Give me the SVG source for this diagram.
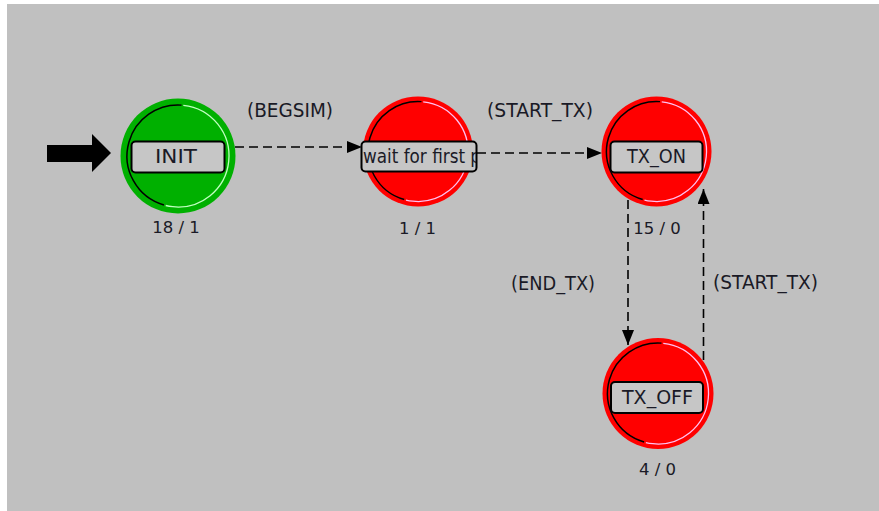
<svg xmlns="http://www.w3.org/2000/svg" width="879" height="511" viewBox="0 0 879 511">
  <defs>
    <style>
      .canvas { fill: #c0c0c0; }
      .red { fill: #ff0000; }
      .green { fill: #00b000; }
      .shade { fill: none; stroke: #000; stroke-width: 1.5; stroke-dasharray: 168 192; }
      .hi-red { fill: none; stroke: #ffc0f0; stroke-width: 1.3; stroke-dasharray: 188 172; }
      .hi-green { fill: none; stroke: #c0ffc0; stroke-width: 1.3; stroke-dasharray: 188 172; }
      .box { fill: #c6c6c6; stroke: #000; stroke-width: 2; }
      .name { font-family: "DejaVu Sans", Verdana, sans-serif; font-size: 19px; fill: #1a1a26; }
      .count { font-family: "DejaVu Sans", Verdana, sans-serif; font-size: 16.5px; fill: #1a1a26; text-anchor: middle; }
      .trans { font-family: "DejaVu Sans", Verdana, sans-serif; font-size: 19px; fill: #1a1a26; }
      .edge { fill: none; stroke: #000; stroke-width: 1.6; stroke-dasharray: 9 5; }
    </style>
    <marker id="head" markerUnits="userSpaceOnUse" markerWidth="16" markerHeight="13" refX="15" refY="6" orient="auto">
      <path d="M0,0 L15,6 L0,12 z" fill="#000"/>
    </marker>
    <clipPath id="wait-clip">
      <rect x="362" y="142" width="114" height="29"/>
    </clipPath>
  </defs>

  <!-- editor canvas -->
  <rect x="0" y="0" width="879" height="511" fill="#ffffff"/>
  <rect class="canvas" x="7" y="4" width="872" height="507"/>

  <!-- initial-state pointer -->
  <g id="start-arrow">
    <polygon points="47,145 92,145 92,134 111,153 92,172 92,162 47,162" fill="#000"/>
  </g>

  <!-- transitions -->
  <g id="connectors">
    <g id="edge-init-wait">
      <path class="edge" d="M235,147 H362" marker-end="url(#head)"/>
      <text class="trans" x="247" y="117" textLength="86" lengthAdjust="spacingAndGlyphs">(BEGSIM)</text>
    </g>
    <g id="edge-wait-txon">
      <path class="edge" d="M477,153 H602" marker-end="url(#head)"/>
      <text class="trans" x="487" y="117" textLength="106" lengthAdjust="spacingAndGlyphs">(START_TX)</text>
    </g>
    <g id="edge-txon-txoff">
      <path class="edge" d="M628,200 V345" marker-end="url(#head)"/>
      <text class="trans" x="511" y="290" textLength="84" lengthAdjust="spacingAndGlyphs">(END_TX)</text>
    </g>
    <g id="edge-txoff-txon">
      <path class="edge" d="M703.5,360 V189" marker-end="url(#head)"/>
      <text class="trans" x="713" y="289" textLength="105" lengthAdjust="spacingAndGlyphs">(START_TX)</text>
    </g>
  </g>

  <!-- states -->
  <g id="node-init">
    <circle class="green" cx="178" cy="156" r="57.5"/>
    <circle class="shade" cx="178" cy="156" r="51" pathLength="360" transform="rotate(106 178 156)"/>
    <circle class="hi-green" cx="178" cy="156" r="51" pathLength="360" transform="rotate(276 178 156)"/>
    <rect class="box" x="131.5" y="141.5" width="93" height="31" rx="4"/>
    <text class="name" x="155" y="163" textLength="42" lengthAdjust="spacingAndGlyphs">INIT</text>
    <text class="count" x="176" y="233">18 / 1</text>
  </g>

  <g id="node-wait">
    <circle class="red" cx="418" cy="151.5" r="55"/>
    <circle class="shade" cx="418" cy="151.5" r="50" pathLength="360" transform="rotate(106 418 151.5)"/>
    <circle class="hi-red" cx="418" cy="151.5" r="50" pathLength="360" transform="rotate(276 418 151.5)"/>
    <rect class="box" x="361.5" y="141.5" width="115" height="30" rx="4"/>
    <text class="name" x="363" y="163" textLength="118" lengthAdjust="spacingAndGlyphs" clip-path="url(#wait-clip)">wait for first p</text>
    <text class="count" x="417.5" y="234">1 / 1</text>
  </g>

  <g id="node-tx-on">
    <circle class="red" cx="656.5" cy="151.5" r="55"/>
    <circle class="shade" cx="656.5" cy="151.5" r="50" pathLength="360" transform="rotate(106 656.5 151.5)"/>
    <circle class="hi-red" cx="656.5" cy="151.5" r="50" pathLength="360" transform="rotate(276 656.5 151.5)"/>
    <rect class="box" x="610.5" y="141.5" width="92" height="31" rx="4"/>
    <text class="name" x="627" y="163" textLength="59" lengthAdjust="spacingAndGlyphs">TX_ON</text>
    <text class="count" x="657" y="234">15 / 0</text>
  </g>

  <g id="node-tx-off">
    <circle class="red" cx="658" cy="393.5" r="55.5"/>
    <circle class="shade" cx="658" cy="393.5" r="50.5" pathLength="360" transform="rotate(106 658 393.5)"/>
    <circle class="hi-red" cx="658" cy="393.5" r="50.5" pathLength="360" transform="rotate(276 658 393.5)"/>
    <rect class="box" x="611" y="382" width="92" height="31" rx="4"/>
    <text class="name" x="622" y="404" textLength="71" lengthAdjust="spacingAndGlyphs">TX_OFF</text>
    <text class="count" x="657.5" y="475">4 / 0</text>
  </g>
</svg>
